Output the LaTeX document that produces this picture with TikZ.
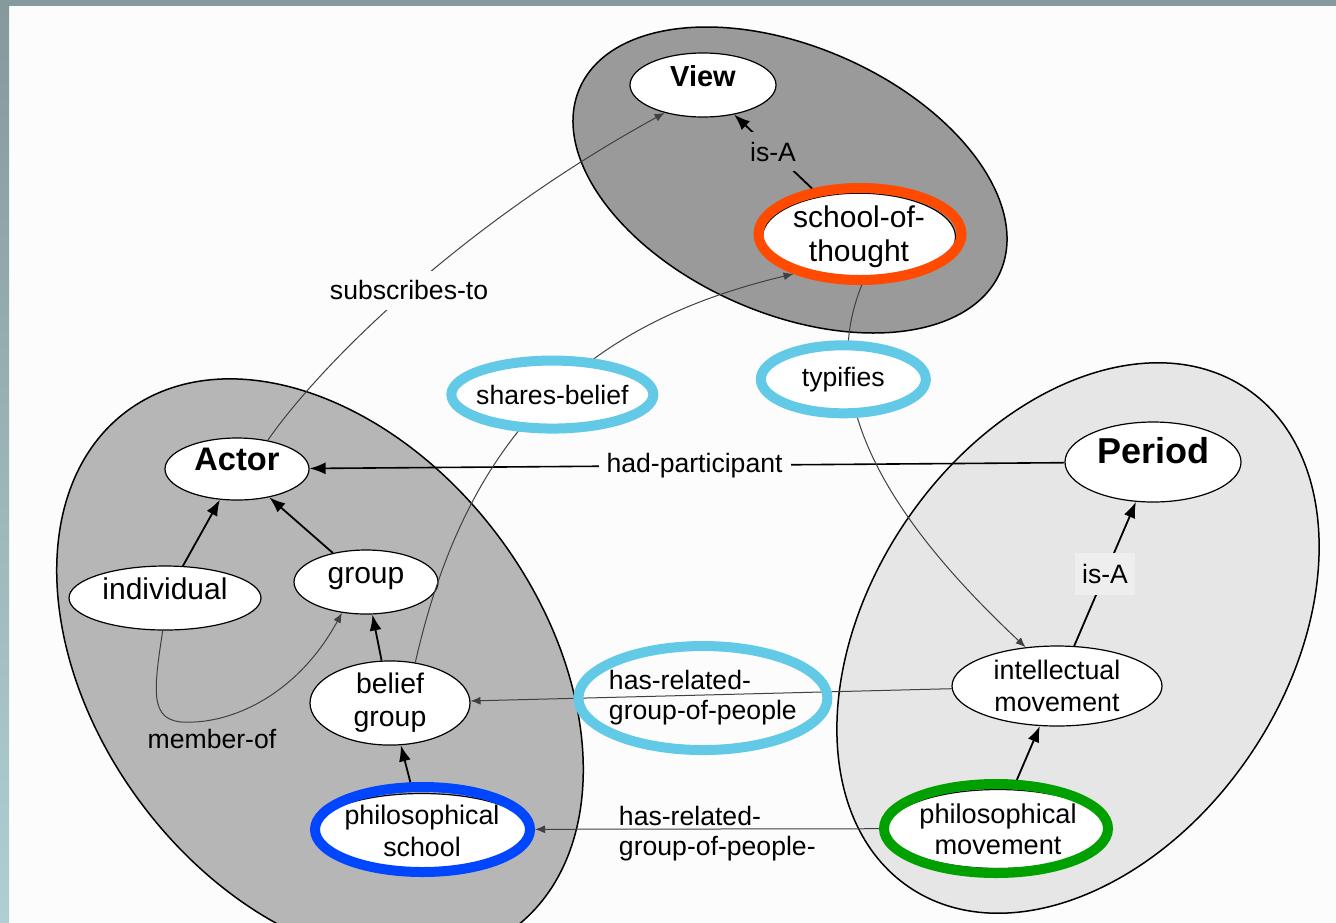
\documentclass[tikz,border=0pt]{standalone}
\usepackage{fontspec}
\setmainfont{Liberation Sans}
\usetikzlibrary{shapes.geometric,arrows.meta}
\definecolor{paper}{HTML}{FCFCFC}
\definecolor{framegray}{HTML}{86999C}
\definecolor{frameteal}{HTML}{B0CFD3}
\definecolor{viewgray}{HTML}{9A9A9A}
\definecolor{actorgray}{HTML}{B6B6B6}
\definecolor{periodgray}{HTML}{E6E6E6}
\definecolor{isabox}{HTML}{EEEEEE}
\definecolor{ringcyan}{HTML}{62C9E6}
\definecolor{ringred}{HTML}{FF4A00}
\definecolor{ringblue}{HTML}{0046FF}
\definecolor{ringgreen}{HTML}{00A000}
\newcommand{\lblfont}{\fontsize{13.3}{15}\selectfont}

\begin{document}
\begin{tikzpicture}[x=0.5pt, y=-0.5pt,
	 cluster/.style={draw, line width=0.75pt},
	 concept/.style={ellipse, draw, line width=0.6pt, fill=white, inner sep=0pt, align=center, font=\fontsize{15}{17}\selectfont},
	 oneline/.style={text height=1em, text depth=0.85em, inner ysep=-5pt},
	 ringed/.style={ellipse, draw=#1, line width=5pt, inner sep=0pt},
	 lbl/.style={font=\lblfont, inner sep=2pt},
	 isa/.style={line width=0.9pt, -{Latex[length=8pt, width=6pt]}},
	 rel/.style={line width=0.5pt, draw=black!75, -{Latex[length=5pt, width=4pt]}}]
	% frame
	\fill[paper] (0,0) rectangle (1336,922);
	\fill[framegray] (0,0) rectangle (1336,6);
	\shade[top color=framegray, bottom color=frameteal] (0,6) rectangle (9,922);
	\useasboundingbox (0,0) rectangle (1336,922);
	% clusters
	\draw[cluster, fill=actorgray, rotate around={-53.2:(320,670)}] (320,670) ellipse [x radius=323, y radius=223];
	\draw[cluster, fill=viewgray, rotate around={-23.6:(790,180)}] (790,180) ellipse [x radius=229.5, y radius=133.5];
	\draw[cluster, fill=periodgray, rotate around={55.9:(1078,638)}] (1078,638) ellipse [x radius=301, y radius=208];
	% View
	\node[concept, oneline, minimum width=73pt, minimum height=32pt, font=\fontsize{14.5}{16}\selectfont\bfseries] (view) at (703,85) {View};
	\node[concept, minimum width=96.5pt, minimum height=41pt] (sot) at (859,237) {school-of-\\thought};
	\node[ringed=ringred, minimum width=101.5pt, minimum height=46pt] (sotring) at (860,234) {};
	% Actor
	\node[concept, oneline, minimum width=72pt, minimum height=31pt, font=\fontsize{16.3}{18}\selectfont\bfseries] (actor) at (237,469) {Actor};
	\node[concept, oneline, minimum width=96pt, minimum height=32pt] (individual) at (165,598) {individual};
	\node[concept, oneline, minimum width=72pt, minimum height=32pt] (group) at (366,582) {group};
	\node[concept, minimum width=80pt, minimum height=40pt, font=\fontsize{14.2}{16.5}\selectfont] (belief) at (390,703) {belief\\group};
	\node[concept, minimum width=102.5pt, minimum height=37.5pt, font=\fontsize{13.4}{16}\selectfont] (ps) at (422,831) {philosophical\\school};
	\node[ringed=ringblue, minimum width=107.5pt, minimum height=42.5pt] (psring) at (422.5,829.5) {};
	% Period
	\node[concept, oneline, minimum width=88pt, minimum height=40pt, font=\fontsize{18}{20}\selectfont\bfseries] (period) at (1153,462) {Period};
	\node[concept, minimum width=105pt, minimum height=40pt, font=\fontsize{13.4}{16}\selectfont] (intel) at (1057,686) {intellectual\\movement};
	\node[concept, minimum width=107pt, minimum height=39.5pt, font=\fontsize{13.6}{15.5}\selectfont] (pm) at (998,829) {philosophical\\movement};
	\node[ringed=ringgreen, minimum width=112pt, minimum height=44.5pt] (pmring) at (996,828.5) {};
	% is-A and part-of arrows
	\draw[isa] (sotring) -- node[lbl, fill=viewgray, inner sep=5pt] (isaview) {is-A} (view);
	\draw[isa] (intel) -- node[lbl, fill=isabox, minimum width=30pt, minimum height=21pt, inner sep=0pt] (isaperiod) {is-A} (period);
	\draw[isa] (individual) -- (actor);
	\draw[isa] (group) -- (actor);
	\draw[isa] (belief) -- (group);
	\draw[isa] (psring) -- (belief);
	\draw[isa] (pmring) -- (intel);
	\draw[isa, line width=0.8pt] (period) -- node[lbl, fill=paper, inner sep=4pt, pos=0.49] (hadpart) {had-participant} (actor);
	% relations
	\draw[rel] (individual.266) .. controls (152,700) and (150,725) .. (194,722)
	    .. controls (240,720) and (300,690) .. (group.232);
	\node[lbl] (memberof) at (212,739) {member-of};
	\draw[rel] (actor.43) .. controls (320,365) and (460,225) .. node[lbl, fill=paper, inner sep=5pt] (subscribes) {subscribes-to} (view.216);
	\draw[rel] (belief.58) .. controls (470,420) and (600,320) .. node[lbl, ringed=ringcyan, fill=white, minimum width=101pt, minimum height=34pt, inner xsep=-3pt] (sharesbelief) {shares-belief} (sotring.211);
	\draw[rel] (sotring.272) .. controls (815,400) and (890,520) .. node[lbl, ringed=ringcyan, fill=white, pos=0.27, xshift=-3pt, minimum width=82.5pt, minimum height=34pt] (typifies) {typifies} (intel.129);
	\draw[rel] (intel) -- node[lbl, ringed=ringcyan, pos=0.517, yshift=-1.5pt, align=left, minimum width=124.5pt, minimum height=52pt, inner xsep=-3pt] (hasrelated) {has-related-\\group-of-people} (belief);
	\draw[rel] (pmring) -- node[lbl, pos=0.47, yshift=-2.5pt, align=left] (hasrelatedb) {has-related-\\group-of-people-} (psring);
\end{tikzpicture}
\end{document}
